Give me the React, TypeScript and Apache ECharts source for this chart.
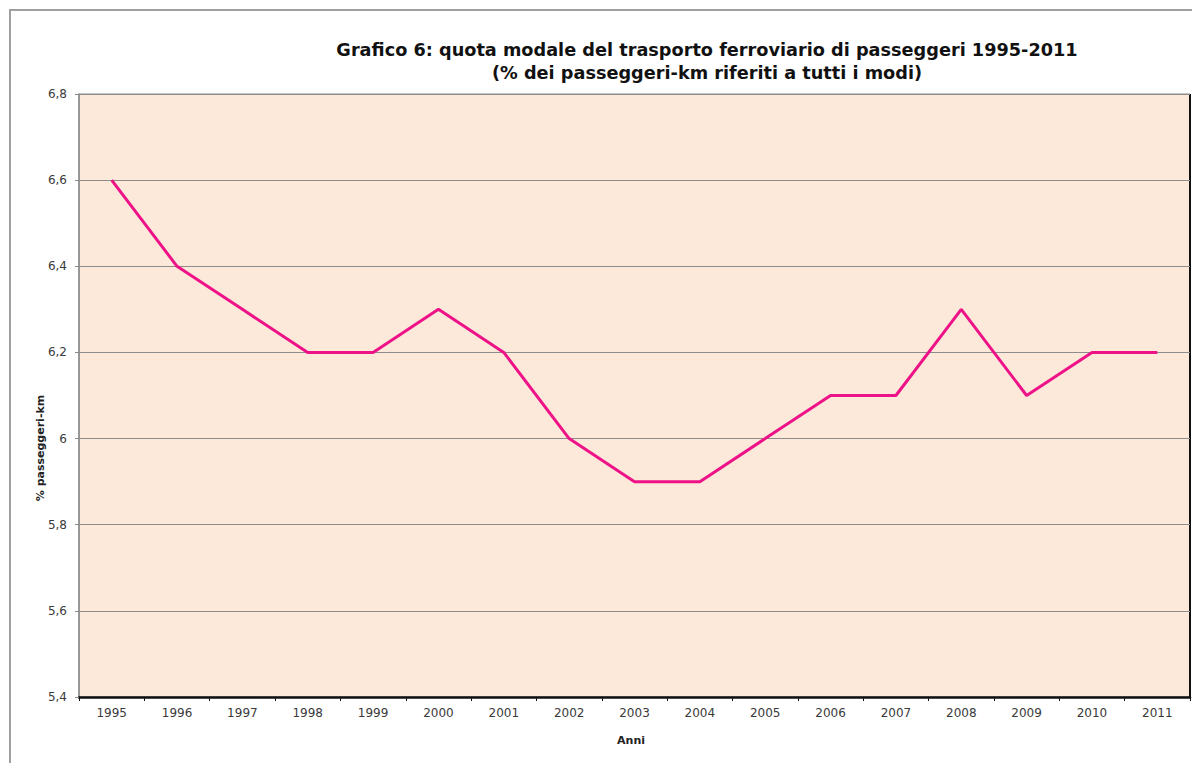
import React, { useEffect, useRef } from "react";
import * as echarts from "echarts";

const years = ["1995","1996","1997","1998","1999","2000","2001","2002","2003","2004","2005","2006","2007","2008","2009","2010","2011"];
const quota = [6.6, 6.4, 6.3, 6.2, 6.2, 6.3, 6.2, 6.0, 5.9, 5.9, 6.0, 6.1, 6.1, 6.3, 6.1, 6.2, 6.2];
const titleLines = [
  "Grafico 6: quota modale del trasporto ferroviario di passeggeri 1995-2011",
  "(% dei passeggeri-km riferiti a tutti i modi)",
];
const yName = "% passeggeri-km";
const xName = "Anni";

const FONT = "DejaVu Sans";

export default function App() {
  const ref = useRef<HTMLDivElement>(null);
  useEffect(() => {
    if (!ref.current) return;
    const chart = echarts.init(ref.current, null, { renderer: "svg" });
    chart.setOption({
      animation: false,
      backgroundColor: "#ffffff",
      title: {
        text: titleLines.join("\n"),
        left: 702,
        top: 33,
        textAlign: "center",
        textStyle: {
          fontFamily: FONT,
          fontWeight: "bold",
          fontSize: 17.7,
          lineHeight: 23,
          color: "#111",
        },
      },
      grid: {
        left: 79,
        top: 94,
        right: 2,
        bottom: 66,
        show: true,
        backgroundColor: "#fde9d9",
        borderColor: "#8a8a8a",
        borderWidth: 1,
      },
      xAxis: {
        type: "category",
        data: years,
        boundaryGap: true,
        axisLine: { lineStyle: { color: "#111", width: 2.5 } },
        axisTick: { show: true, length: 4, lineStyle: { color: "#111" } },
        axisLabel: {
          fontFamily: FONT,
          fontSize: 12,
          color: "#3a3a3a",
          margin: 10,
        },
      },
      yAxis: {
        type: "value",
        min: 5.4,
        max: 6.8,
        interval: 0.2,
        axisLine: { show: true, lineStyle: { color: "#8a8a8a", width: 1.5 } },
        axisTick: { show: true, length: 4, lineStyle: { color: "#8a8a8a" } },
        splitLine: { show: true, lineStyle: { color: "#8c8c8c", width: 1 } },
        axisLabel: {
          fontFamily: FONT,
          fontSize: 12,
          color: "#3a3a3a",
          margin: 12,
          formatter: (v: number) => {
            const r = Math.round(v * 10) / 10;
            return Number.isInteger(r) ? String(r) : r.toFixed(1).replace(".", ",");
          },
        },
      },
      series: [
        {
          type: "line",
          data: quota,
          symbol: "none",
          lineStyle: { color: "#ee1289", width: 3 },
        },
      ],
      graphic: [
        {
          type: "rect",
          shape: { x: 10, y: 10, width: 1300, height: 900 },
          style: { fill: "none", stroke: "#a0a0a0", lineWidth: 2 },
          silent: true,
        },
        {
          type: "line",
          shape: { x1: 1190, y1: 94, x2: 1190, y2: 698 },
          style: { stroke: "#111", lineWidth: 2 },
          silent: true,
        },
        {
          type: "text",
          x: 40,
          y: 448,
          rotation: Math.PI / 2,
          style: {
            text: yName,
            fontFamily: FONT,
            fontWeight: "bold",
            fontSize: 11,
            fill: "#222",
            align: "center",
            verticalAlign: "middle",
          },
        },
        {
          type: "text",
          x: 631,
          y: 740,
          style: {
            text: xName,
            fontFamily: FONT,
            fontWeight: "bold",
            fontSize: 11,
            fill: "#222",
            align: "center",
            verticalAlign: "middle",
          },
        },
      ],
    });
    return () => chart.dispose();
  }, []);
  return (
    <div
      ref={ref}
      style={{ position: "fixed", left: 0, top: 0, width: 1192, height: 763 }}
    />
  );
}
